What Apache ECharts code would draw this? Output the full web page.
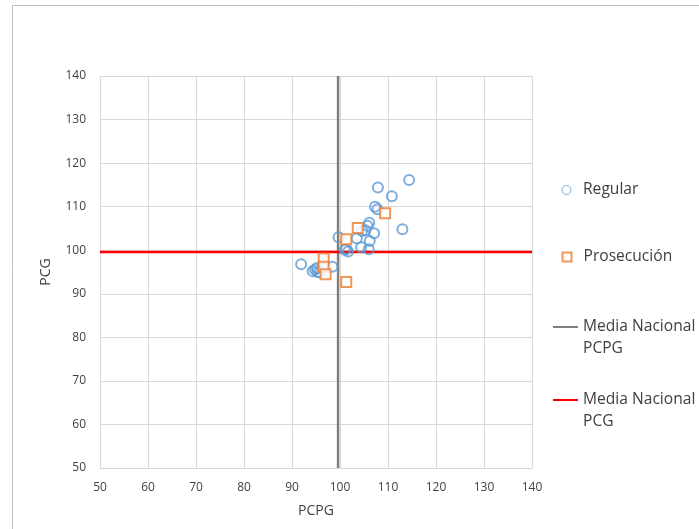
<!DOCTYPE html>
<html>
<head>
<meta charset="utf-8">
<script src="https://cdn.jsdelivr.net/npm/echarts@6/dist/echarts.min.js"></script>
<style>html,body{margin:0;padding:0;background:#fff}#c{width:699px;height:529px}</style>
</head>
<body>
<div id="c"></div>
<script>
// Data
var regularX = [114.4, 107.9, 110.8, 107.3, 107.8, 113.0, 106.1, 105.7, 107.1, 104.6, 105.3, 103.5, 106.2, 99.7, 104.4, 106.0, 101.0, 101.7, 101.3, 91.9, 94.3, 94.8, 95.2, 95.3, 95.8, 98.4];
var regularY = [116.1, 114.4, 112.4, 110.0, 109.4, 104.8, 106.3, 105.6, 103.9, 104.4, 104.6, 102.7, 102.1, 103.0, 100.7, 100.2, 100.1, 99.7, 100.3, 96.8, 95.2, 95.6, 95.9, 95.0, 94.9, 96.2];
var prosecX = [109.4, 103.7, 101.3, 96.6, 96.6, 97.0, 101.3];
var prosecY = [108.5, 105.1, 102.5, 98.1, 96.2, 94.5, 92.7];
var mediaPCPG = 99.6;
var mediaPCG = 99.6;
var axisMin = 50, axisMax = 140, axisStep = 10;
var seriesNames = ['Regular', 'Prosecución', 'Media Nacional\nPCPG', 'Media Nacional\nPCG'];
var xName = 'PCPG', yName = 'PCG';

function pairs(xs, ys){ return xs.map(function(x,i){ return [x, ys[i]]; }); }

var FONT = '"Open Sans", "Noto Sans", sans-serif';
var chart = echarts.init(document.getElementById('c'), null, {renderer:'canvas'});

function legendItem(name, top, opts){
  var l = {
    orient: 'vertical', left: opts.left, top: top, padding: 0,
    itemWidth: opts.w, itemHeight: opts.h, itemGap: 0,
    selectedMode: false,
    data: [{name: name, icon: opts.icon, itemStyle: opts.itemStyle}],
    textStyle: {fontFamily: FONT, fontSize: 15.6, color: '#404040', lineHeight: 22, padding: opts.padding || 0}
  };
  if (opts.formatter) l.formatter = opts.formatter;
  return l;
}
function twoLine(name){ return '\n' + name; }

var option = {
  animation: false,
  backgroundColor: '#fff',
  graphic: [{
    type: 'rect', left: 10, top: 3, shape: {width: 720, height: 560},
    style: {fill: 'none', stroke: '#bfbfbf', lineWidth: 1}
  }],
  legend: [
    legendItem(seriesNames[0], 179, {left: 561.5, w: 9, h: 9, icon: 'circle', padding: [0,0,0,7], itemStyle: {color: '#fff', borderColor: '#5b9bd5', borderWidth: 1}}),
    legendItem(seriesNames[1], 246, {left: 561.5, w: 9, h: 9, icon: 'rect', padding: [0,0,0,7], itemStyle: {color: '#fff', borderColor: '#ed7d31', borderWidth: 2}}),
    legendItem(seriesNames[2], 294, {left: 553, w: 25, h: 2, icon: 'rect', formatter: twoLine, itemStyle: {color: '#7f7f7f', borderWidth: 0}}),
    legendItem(seriesNames[3], 367, {left: 553, w: 25, h: 2, icon: 'rect', formatter: twoLine, itemStyle: {color: '#ff0000', borderWidth: 0}})
  ],
  grid: {left: 100, right: 167, top: 76, bottom: 61, containLabel: false},
  xAxis: {
    type: 'value', min: axisMin, max: axisMax, interval: axisStep,
    name: xName, nameLocation: 'middle', nameGap: 36,
    nameTextStyle: {fontFamily: FONT, fontSize: 14, color: '#404040'},
    axisLine: {show: true, lineStyle: {color: '#d9d9d9'}},
    axisTick: {show: false},
    axisLabel: {fontFamily: FONT, fontSize: 12, color: '#404040', margin: 14},
    splitLine: {show: true, lineStyle: {color: '#d9d9d9', width: 1}}
  },
  yAxis: {
    type: 'value', min: axisMin, max: axisMax, interval: axisStep,
    name: yName, nameLocation: 'middle', nameGap: 47, nameRotate: 90,
    nameTextStyle: {fontFamily: FONT, fontSize: 14, color: '#404040'},
    axisLine: {show: false},
    axisTick: {show: false},
    axisLabel: {fontFamily: FONT, fontSize: 12, color: '#404040', margin: 14},
    splitLine: {show: true, lineStyle: {color: '#d9d9d9', width: 1}}
  },
  series: [
    {
      name: seriesNames[2], type: 'line', symbol: 'none', z: 2,
      data: [[mediaPCPG, axisMin], [mediaPCPG, axisMax]],
      lineStyle: {color: '#7f7f7f', width: 2.5}, itemStyle: {color: '#7f7f7f'}
    },
    {
      name: seriesNames[3], type: 'line', symbol: 'none', z: 2,
      data: [[axisMin, mediaPCG], [axisMax, mediaPCG]],
      lineStyle: {color: '#ff0000', width: 2.5}, itemStyle: {color: '#ff0000'}
    },
    {
      name: seriesNames[0], type: 'scatter', symbol: 'circle', symbolSize: 10, z: 3,
      data: pairs(regularX, regularY),
      itemStyle: {color: 'rgba(255,255,255,0)', borderColor: '#5b9bd5', borderWidth: 2}
    },
    {
      name: seriesNames[1], type: 'scatter', symbol: 'rect', symbolSize: 10, z: 4,
      data: pairs(prosecX, prosecY),
      itemStyle: {color: '#fff', borderColor: '#ed7d31', borderWidth: 2}
    }
  ]
};
chart.setOption(option);
</script>
</body>
</html>
